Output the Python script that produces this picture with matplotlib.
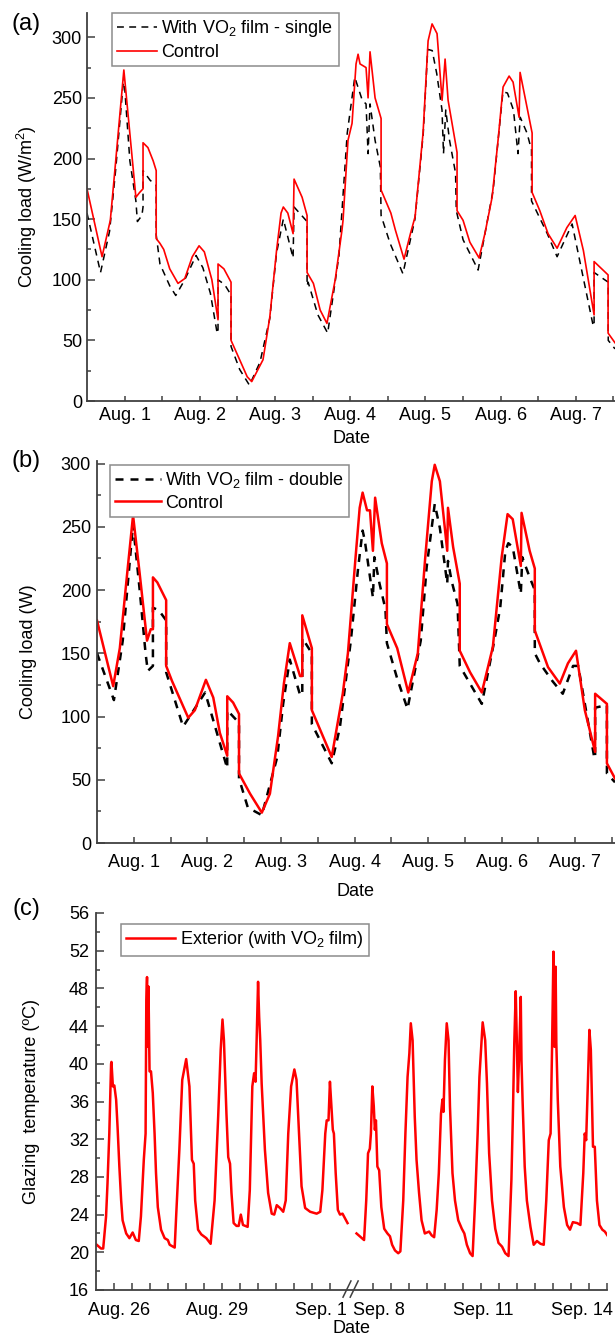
import matplotlib
matplotlib.use("Agg")
import numpy as np
import matplotlib.pyplot as plt
from matplotlib.transforms import ScaledTranslation

plt.rcParams['font.family'] = ['Liberation Sans', 'DejaVu Sans']
plt.rcParams['mathtext.fontset'] = 'custom'
plt.rcParams['mathtext.rm'] = 'Liberation Sans'
plt.rcParams['mathtext.it'] = 'Liberation Sans:italic'

# ---------------- (a) cooling load, single glazing (W/m2) ----------------
a_ctrl_day = [0.50, 0.70, 0.81, 0.87, 0.99, 1.15, 1.20, 1.245, 1.245, 1.31, 1.38, 1.42, 1.42,
              1.47, 1.52, 1.60, 1.71, 1.80, 1.90, 1.99, 2.06, 2.16, 2.242, 2.242, 2.32, 2.415,
              2.415, 2.53, 2.63, 2.69, 2.84, 2.93, 3.02, 3.08, 3.11, 3.17, 3.24, 3.253, 3.36,
              3.426, 3.426, 3.51, 3.60, 3.69, 3.80, 3.89, 3.904, 3.97, 4.024, 4.077, 4.104, 4.13,
              4.21, 4.237, 4.263, 4.33, 4.41, 4.41, 4.54, 4.60, 4.715, 4.80, 4.862, 4.968, 5.035,
              5.088, 5.154, 5.221, 5.261, 5.301, 5.42, 5.42, 5.50, 5.59, 5.713, 5.79, 5.886,
              5.965, 6.032, 6.112, 6.165, 6.245, 6.258, 6.351, 6.418, 6.418, 6.52, 6.63, 6.75,
              6.88, 6.99, 7.10, 7.242, 7.242, 7.428, 7.428, 7.52]
a_ctrl_load = [175, 119, 149, 190, 273, 168, 172, 175, 213, 209, 198, 190, 134,
               130, 125, 109, 97, 101, 119, 128, 123, 100, 67, 113, 109, 98,
               50, 34, 20, 16, 34, 69, 124, 155, 160, 155, 138, 183, 168,
               153, 106, 97, 75, 64, 100, 141, 149, 215, 229, 278, 286, 278,
               275, 250, 288, 250, 233, 174, 155, 141, 117, 138, 152, 221, 297,
               311, 303, 248, 282, 248, 205, 157, 149, 131, 118, 138, 168,
               215, 259, 268, 263, 234, 271, 242, 221, 172, 157, 138, 126,
               143, 153, 124, 71, 115, 104, 56, 48]

a_film_day = [0.50, 0.68, 0.80, 0.88, 0.99, 1.07, 1.15, 1.17, 1.23, 1.245, 1.245, 1.34, 1.42,
              1.42, 1.47, 1.60, 1.68, 1.80, 1.95, 2.04, 2.14, 2.23, 2.242, 2.242, 2.33, 2.40,
              2.415, 2.415, 2.53, 2.66, 2.80, 2.93, 3.02, 3.11, 3.24, 3.253, 3.426, 3.426,
              3.44, 3.57, 3.70, 3.85, 3.96, 4.06, 4.16, 4.21, 4.237, 4.263, 4.33, 4.40, 4.41,
              4.53, 4.70, 4.86, 4.97, 5.03, 5.09, 5.15, 5.22, 5.24, 5.27, 5.32, 5.40, 5.41,
              5.50, 5.70, 5.90, 6.03, 6.09, 6.17, 6.23, 6.26, 6.35, 6.41, 6.41, 6.62, 6.75,
              6.95, 7.23, 7.242, 7.242, 7.43, 7.43, 7.52]
a_film_load = [155, 106, 140, 190, 268, 198, 165, 148, 153, 160, 190, 182, 178,
               137, 113, 95, 87, 100, 120, 110, 89, 56, 56, 100, 96, 89,
               89, 45, 26, 13, 32, 68, 122, 150, 118, 160, 148, 95,
               98, 71, 56, 120, 221, 267, 248, 245, 204, 245, 215, 193, 153,
               130, 105, 150, 220, 290, 289, 270, 240, 204, 240, 215, 188, 157,
               133, 108, 174, 255, 254, 240, 204, 234, 221, 207, 165, 138, 119,
               146, 62, 62, 106, 98, 50, 43]

# ---------------- (b) cooling load, double glazing (W) ----------------
b_ctrl_day = [0.50, 0.72, 0.81, 0.91, 0.99, 1.08, 1.18, 1.23, 1.26, 1.26, 1.32, 1.44, 1.44,
              1.52, 1.74, 1.83, 1.98, 2.08, 2.17, 2.27, 2.27, 2.35, 2.43, 2.43, 2.58, 2.74,
              2.85, 2.96, 3.04, 3.12, 3.26, 3.29, 3.29, 3.42, 3.42, 3.69, 3.84, 3.91, 4.01,
              4.07, 4.11, 4.17, 4.21, 4.25, 4.28, 4.37, 4.44, 4.44, 4.58, 4.73, 4.86, 4.96,
              5.05, 5.09, 5.16, 5.26, 5.27, 5.34, 5.43, 5.43, 5.57, 5.73, 5.88, 6.00, 6.08,
              6.15, 6.26, 6.27, 6.38, 6.45, 6.45, 6.63, 6.79, 6.90, 7.01, 7.13, 7.27, 7.27,
              7.43, 7.43, 7.54]
b_ctrl_load = [176, 124, 154, 213, 259, 213, 160, 169, 169, 210, 206, 192, 140,
               128, 99, 105, 129, 115, 87, 69, 116, 111, 102, 55, 39, 24,
               39, 84, 126, 158, 132, 132, 180, 154, 105, 68, 118, 150, 223,
               265, 277, 263, 263, 231, 273, 237, 221, 173, 154, 119, 150, 225,
               286, 299, 286, 231, 265, 234, 205, 152, 135, 119, 155, 226, 260,
               256, 219, 261, 231, 217, 168, 139, 126, 142, 152, 105, 72, 118,
               110, 63, 51]

b_film_day = [0.50, 0.73, 0.85, 0.99, 1.08, 1.16, 1.19, 1.26, 1.26, 1.34, 1.44, 1.44, 1.67,
              1.97, 2.27, 2.27, 2.43, 2.43, 2.55, 2.74, 2.95, 3.03, 3.12, 3.26, 3.29, 3.29,
              3.42, 3.42, 3.69, 3.80, 3.95, 4.05, 4.11, 4.14, 4.25, 4.27, 4.34, 4.42, 4.44,
              4.58, 4.72, 4.90, 4.98, 5.09, 5.16, 5.26, 5.27, 5.32, 5.40, 5.43, 5.73, 5.90,
              5.98, 6.05, 6.09, 6.15, 6.26, 6.28, 6.38, 6.45, 6.45, 6.52, 6.69, 6.83, 6.97,
              7.04, 7.26, 7.27, 7.27, 7.43, 7.43, 7.54]
b_film_load = [150, 113, 160, 252, 200, 150, 136, 140, 186, 184, 176, 135, 92,
               119, 59, 105, 95, 51, 28, 22, 68, 110, 145, 117, 117, 162,
               150, 94, 63, 91, 160, 218, 247, 239, 194, 226, 205, 185, 158,
               130, 106, 160, 218, 268, 249, 205, 223, 207, 189, 140, 110, 160,
               186, 231, 237, 234, 197, 226, 210, 200, 150, 142, 128, 118, 140,
               140, 67, 67, 107, 109, 55, 48]

# ---------------- (c) exterior glazing temperature (degC) ----------------
# first week: day of August; second week: day of September
c_aug_day = [25.52, 25.64, 25.70, 25.78, 25.82, 25.87, 25.92, 25.93, 25.97, 26.01, 26.06, 26.10,
             26.15, 26.20, 26.24, 26.34, 26.43, 26.52, 26.61, 26.69, 26.75, 26.83, 26.88, 26.90,
             26.92, 26.94, 26.96, 26.99, 27.03, 27.08, 27.13, 27.17, 27.22, 27.31, 27.41, 27.50,
             27.55, 27.69, 27.73, 27.82, 27.90, 28.01, 28.10, 28.17, 28.22, 28.26, 28.34, 28.43,
             28.57, 28.69, 28.80, 28.90, 28.97, 29.02, 29.06, 29.13, 29.18, 29.23, 29.27, 29.33,
             29.41, 29.47, 29.53, 29.59, 29.72, 29.78, 29.85, 29.90, 29.94, 29.97, 30.01, 30.04,
             30.07, 30.11, 30.20, 30.29, 30.39, 30.46, 30.53, 30.62, 30.71, 30.78, 30.85, 30.93,
             31.02, 31.08, 31.15, 31.22, 31.32, 31.46, 31.64, 31.74, 31.80, 31.88, 31.92, 31.97,
             32.01, 32.04, 32.09, 32.12, 32.17, 32.23, 32.29, 32.36, 32.43, 32.50]
c_aug_temp = [20.8, 20.4, 20.4, 23.8, 27.3, 32.6, 40.0, 40.2, 37.6, 37.7, 36.2, 33.3,
              29.1, 25.5, 23.4, 22.0, 21.5, 22.1, 21.3, 21.2, 23.8, 29.8, 32.6, 46.8,
              49.2, 41.8, 48.2, 39.2, 39.2, 36.9, 32.6, 28.4, 24.8, 22.4, 21.5, 21.3,
              20.8, 20.5, 23.8, 30.9, 38.3, 40.5, 37.6, 29.8, 29.4, 25.5, 22.4, 21.9,
              21.5, 20.9, 25.5, 34.4, 41.5, 44.7, 42.5, 34.7, 30.1, 29.4, 26.3, 23.1,
              22.8, 22.8, 24.0, 22.9, 22.7, 26.6, 37.6, 39.0, 38.1, 42.5, 48.7, 45.0,
              42.5, 37.9, 30.9, 26.3, 24.1, 24.0, 25.0, 24.7, 24.3, 25.5, 32.6, 37.6,
              39.4, 38.3, 32.6, 27.0, 24.7, 24.3, 24.1, 24.3, 26.6, 32.6, 34.0, 34.0,
              38.1, 36.2, 33.0, 32.6, 28.4, 24.5, 24.0, 24.1, 23.6, 23.1]

c_sep_day = [7.53, 7.62, 7.74, 7.80, 7.85, 7.90, 7.93, 7.97, 8.01, 8.04, 8.07, 8.11, 8.16,
             8.22, 8.30, 8.39, 8.46, 8.52, 8.60, 8.69, 8.75, 8.83, 8.89, 8.95, 9.00, 9.04,
             9.09, 9.15, 9.20, 9.27, 9.34, 9.43, 9.55, 9.62, 9.69, 9.76, 9.82, 9.88, 9.92,
             9.95, 9.99, 10.04, 10.09, 10.13, 10.20, 10.27, 10.36, 10.46, 10.53, 10.60, 10.69,
             10.76, 10.83, 10.90, 10.95, 11.04, 11.11, 11.16, 11.22, 11.30, 11.39, 11.48,
             11.58, 11.67, 11.76, 11.84, 11.88, 11.92, 11.96, 11.99, 12.02, 12.06, 12.10,
             12.12, 12.15, 12.21, 12.27, 12.37, 12.46, 12.55, 12.65, 12.74, 12.81, 12.88,
             12.93, 12.97, 13.01, 13.04, 13.07, 13.09, 13.13, 13.20, 13.30, 13.39, 13.47,
             13.55, 13.67, 13.76, 13.84, 13.88, 13.92, 13.97, 14.01, 14.05, 14.11, 14.16,
             14.22, 14.29, 14.37, 14.44, 14.51]
c_sep_temp = [22.0, 21.7, 21.3, 25.5, 30.5, 31.0, 32.6, 37.6, 35.5, 33.0, 34.0, 29.1, 28.7,
              24.8, 22.5, 22.0, 21.7, 20.8, 20.2, 19.9, 20.1, 25.5, 32.6, 38.6, 41.1, 44.3,
              42.5, 34.4, 29.8, 26.3, 23.4, 22.0, 22.2, 21.8, 21.6, 24.5, 28.4, 34.7, 36.2,
              34.9, 40.4, 44.3, 42.5, 35.5, 28.4, 25.5, 23.4, 22.5, 22.0, 20.8, 19.9,
              19.6, 25.5, 32.6, 38.6, 44.4, 42.5, 37.9, 30.5, 25.5, 22.5, 21.0,
              20.6, 19.9, 19.6, 27.7, 34.4, 42.2, 47.7, 42.5, 37.0, 41.5, 47.1,
              40.4, 36.2, 29.1, 25.5, 22.7, 20.8, 21.2, 20.9, 20.8, 25.5, 31.9,
              32.6, 41.5, 51.9, 41.8, 50.3, 42.2, 36.2, 29.1, 24.8, 22.9, 22.4,
              23.2, 23.1, 22.9, 28.4, 32.6, 31.9, 38.3, 43.6, 41.5, 31.2, 31.2,
              25.5, 22.9, 22.4, 22.2, 21.8]

aug_week_labels = ["Aug. 1", "Aug. 2", "Aug. 3", "Aug. 4", "Aug. 5", "Aug. 6", "Aug. 7"]
c_aug_ticks = [26, 29, 32]
c_aug_ticklabels = ["Aug. 26", "Aug. 29", "Sep. 1"]
c_sep_ticks = [8, 11, 14]
c_sep_ticklabels = ["Sep. 8", "Sep. 11", "Sep. 14"]

# ---------------- layout ----------------
W, H = 615, 1339
fig = plt.figure(figsize=(W / 100, H / 100), dpi=100)
SPINE = '#404040'
FS = 13


def px_axes(left, top, right, bottom):
    return fig.add_axes([left / W, 1 - bottom / H, (right - left) / W, (bottom - top) / H])


def style(ax, xpad, ypad, xlen):
    for s in ('top', 'right'):
        ax.spines[s].set_visible(False)
    for s in ('left', 'bottom'):
        ax.spines[s].set_color(SPINE)
        ax.spines[s].set_linewidth(1.3)
    ax.tick_params(axis='both', which='both', direction='in', colors=SPINE,
                   labelcolor='black', labelsize=FS, width=1.1)
    ax.tick_params(axis='x', which='both', length=xlen, pad=xpad)
    ax.tick_params(axis='y', which='major', length=5.5, pad=ypad)
    ax.tick_params(axis='y', which='minor', length=3.2, pad=ypad)


def legend(ax, anchor, hl):
    leg = ax.legend(loc='upper left', bbox_to_anchor=anchor, borderaxespad=0,
                    fontsize=FS, frameon=True, fancybox=False, framealpha=1,
                    edgecolor='#8c8c8c', handlelength=hl, handletextpad=0.25,
                    borderpad=0.3, labelspacing=0.25)
    leg.get_frame().set_linewidth(1.1)
    return leg


# panel (a)
ax_a = px_axes(87, 13, 615, 401)
ax_a.plot(a_film_day, a_film_load, color='black', lw=1.1, dashes=(4.5, 3.5),
          label='With VO$_2$ film - single')
ax_a.plot(a_ctrl_day, a_ctrl_load, color='#ff0000', lw=1.2, label='Control')
ax_a.set_xlim(0.5, 7.52)
ax_a.set_ylim(0, 320)
ax_a.set_xticks(np.arange(1, 8), aug_week_labels)
ax_a.set_xticks(np.arange(1.5, 8, 1), minor=True)
ax_a.set_yticks(np.arange(0, 301, 50))
ax_a.set_yticks(np.arange(25, 320, 50), minor=True)
style(ax_a, xpad=4.5, ypad=3.6, xlen=3.6)
ax_a.set_ylabel('Cooling load (W/m$^2$)', fontsize=FS)
ax_a.yaxis.set_label_coords(-0.091, 0.5)
ax_a.set_xlabel('Date', fontsize=FS, va='top')
ax_a.xaxis.set_label_coords(0.5, -0.074)
legend(ax_a, (0.047, 1.0), 2.2)

# panel (b)
ax_b = px_axes(97, 461, 615, 843)
ax_b.plot(b_film_day, b_film_load, color='black', lw=1.8, dashes=(3.2, 2.8),
          label='With VO$_2$ film - double')
ax_b.plot(b_ctrl_day, b_ctrl_load, color='#ff0000', lw=1.8, label='Control')
ax_b.set_xlim(0.5, 7.54)
ax_b.set_ylim(0, 302)
ax_b.set_xticks(np.arange(1, 8), aug_week_labels)
ax_b.set_xticks(np.arange(1.5, 8, 1), minor=True)
ax_b.set_yticks(np.arange(0, 301, 50))
ax_b.set_yticks(np.arange(25, 300, 50), minor=True)
style(ax_b, xpad=8.0, ypad=4.3, xlen=4.3)
ax_b.set_ylabel('Cooling load (W)', fontsize=FS)
ax_b.yaxis.set_label_coords(-0.116, 0.5)
ax_b.set_xlabel('Date', fontsize=FS, va='top')
ax_b.xaxis.set_label_coords(0.5, -0.104)
legend(ax_b, (0.025, 0.99), 2.5)

# panel (c): two measurement weeks joined on one broken date axis
GAP = 0.22          # width of the axis break, in days
AUG_END = 32.5      # last plotted instant of the first week (Sep. 1, 12:00)


def sep_pos(d):
    return AUG_END + GAP + (np.asarray(d, dtype=float) - 7.5)


ax_c = px_axes(96, 913, 607, 1290)
ax_c.plot(c_aug_day, c_aug_temp, color='#ff0000', lw=1.8,
          label='Exterior (with VO$_2$ film)')
ax_c.plot(sep_pos(c_sep_day), c_sep_temp, color='#ff0000', lw=1.8)
ax_c.set_xlim(25.5, sep_pos(14.5))
ax_c.set_ylim(16, 56)
ticks_c = list(np.arange(26, 32.01, 0.5)) + list(sep_pos(np.arange(8, 14.51, 0.5)))
ax_c.set_xticks(ticks_c)
ax_c.set_xticklabels([])
ax_c.set_yticks(np.arange(16, 57, 4))
ax_c.set_yticks(np.arange(18, 56, 4), minor=True)
style(ax_c, xpad=9.0, ypad=5.0, xlen=5.0)

# date labels (nudged sideways where the two weeks meet)
label_pos = list(c_aug_ticks) + list(sep_pos(c_sep_ticks))
label_txt = c_aug_ticklabels + c_sep_ticklabels
label_nudge_px = [5, -5, -9, 6, 2, -7]
xtr = ax_c.get_xaxis_transform()
for pos, txt, dx in zip(label_pos, label_txt, label_nudge_px):
    off = ScaledTranslation(dx / 100, -12 / 100, fig.dpi_scale_trans)
    ax_c.text(pos, 0, txt, transform=xtr + off, ha='center', va='top', fontsize=FS)

# axis-break marks
for x0 in (0.4834, 0.4975):
    ax_c.plot([x0, x0 + 0.0155], [-0.019, 0.024], transform=ax_c.transAxes,
              color=SPINE, lw=1.1, clip_on=False)

ax_c.set_ylabel('Glazing  temperature (ºC)', fontsize=FS)
ax_c.yaxis.set_label_coords(-0.11, 0.5)
ax_c.set_xlabel('Date', fontsize=FS, va='top')
ax_c.xaxis.set_label_coords(0.5, -0.079)
legend(ax_c, (0.049, 0.971), 2.7)

# panel letters
for txt, y in (('(a)', 24), ('(b)', 461), ('(c)', 909)):
    fig.text(26 / W, 1 - y / H, txt, fontsize=17, ha='center', va='center')

fig.savefig('out.png', dpi=100)
